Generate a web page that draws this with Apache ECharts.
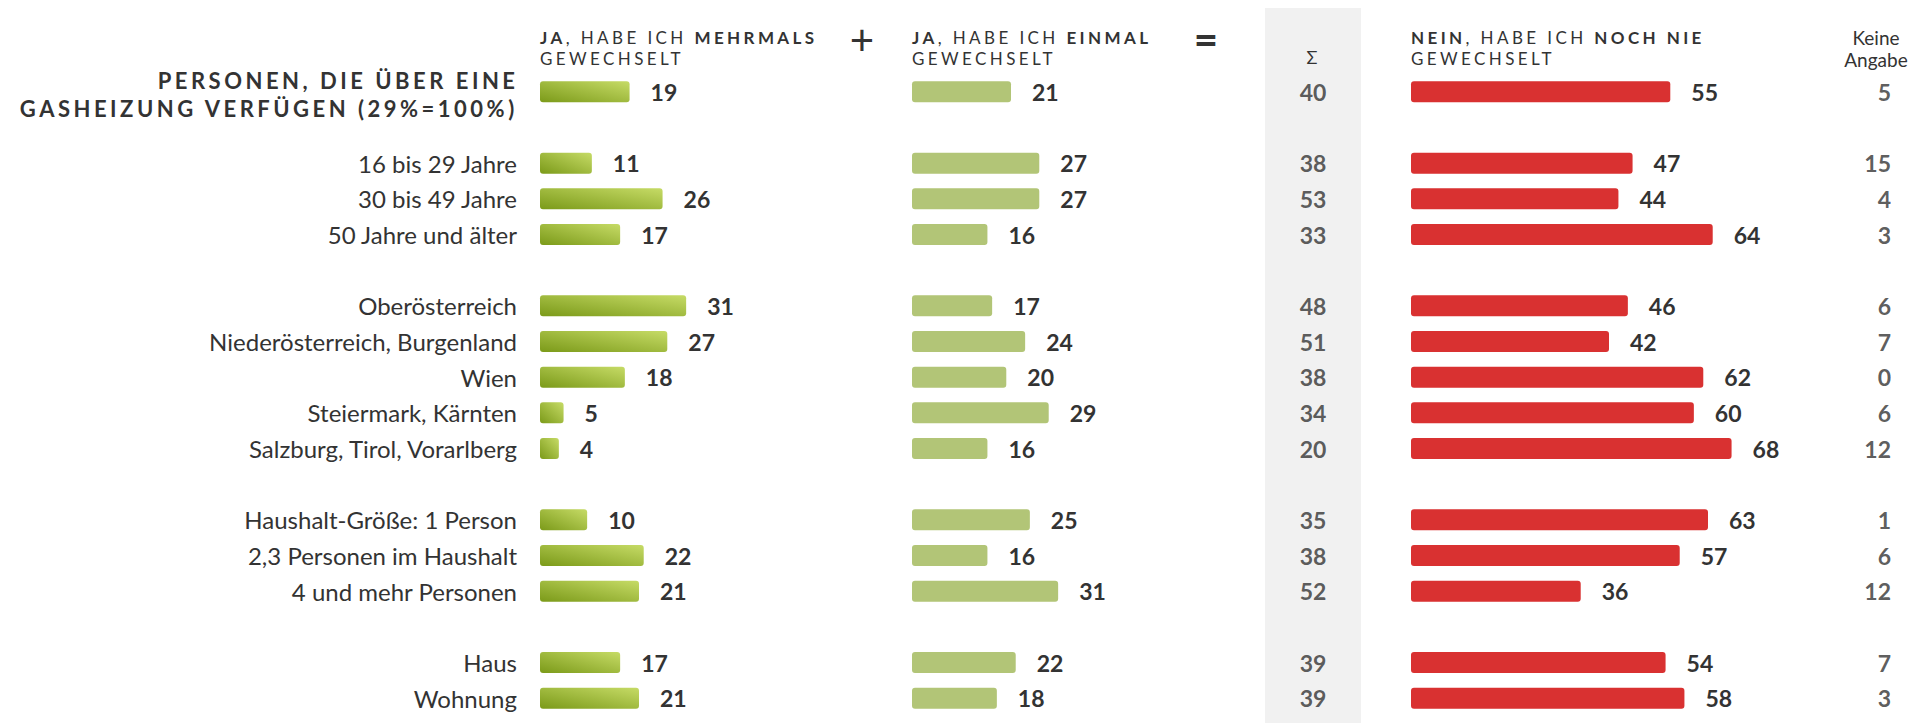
<!DOCTYPE html>
<html>
<head>
<meta charset="utf-8">
<script src="https://cdn.jsdelivr.net/npm/echarts@6/dist/echarts.min.js"></script>
<style>
  html, body { margin: 0; padding: 0; background: #fff; }
  #chart { width: 1923px; height: 723px; }
</style>
</head>
<body>
<div id="chart"></div>
<script>
// rows (empty string = spacer row between groups)
const categories = [
  'PERSONEN, DIE ÜBER EINE\nGASHEIZUNG VERFÜGEN (29%=100%)', '',
  '16 bis 29 Jahre', '30 bis 49 Jahre', '50 Jahre und älter', '',
  'Oberösterreich', 'Niederösterreich, Burgenland', 'Wien', 'Steiermark, Kärnten', 'Salzburg, Tirol, Vorarlberg', '',
  'Haushalt-Größe: 1 Person', '2,3 Personen im Haushalt', '4 und mehr Personen', '',
  'Haus', 'Wohnung'
]
const mehrmals    = [19, null, 11, 26, 17, null, 31, 27, 18, 5, 4, null, 10, 22, 21, null, 17, 21]
const einmal      = [21, null, 27, 27, 16, null, 17, 24, 20, 29, 16, null, 25, 16, 31, null, 22, 18]
const summe       = [40, null, 38, 53, 33, null, 48, 51, 38, 34, 20, null, 35, 38, 52, null, 39, 39]
const nochNie     = [55, null, 47, 44, 64, null, 46, 42, 62, 60, 68, null, 63, 57, 36, null, 54, 58]
const keineAngabe = [5, null, 15, 4, 3, null, 6, 7, 0, 6, 12, null, 1, 6, 12, null, 7, 3]

// column headers: [text, weight] pieces per line
const headers = [
  { x: 540,  lines: [[['JA', 'bold'], [', HABE ICH ', 'normal'], ['MEHRMALS', 'bold']], [['GEWECHSELT', 'normal']]] },
  { x: 912,  lines: [[['JA', 'bold'], [', HABE ICH ', 'normal'], ['EINMAL', 'bold']], [['GEWECHSELT', 'normal']]] },
  { x: 1411, lines: [[['NEIN', 'bold'], [', HABE ICH ', 'normal'], ['NOCH NIE', 'bold']], [['GEWECHSELT', 'normal']]] }
]

const FONT = 'Lato'
const TXT = '#333333'
const rowKeys = categories.map((c, i) => 'r' + i)

// letter spaced texts (drawn via svg, spacing set after render)
const SPACED = {}
const measureCtx = document.createElement('canvas').getContext('2d')
function textWidth(str, weight, size, spacing) {
  measureCtx.font = weight + ' ' + size + 'px ' + FONT
  measureCtx.letterSpacing = spacing + 'px'
  return measureCtx.measureText(str).width
}
function spacedLine(tokens, x, y, size, spacing, align) {
  let total = tokens.reduce((s, t) => s + textWidth(t[0], t[1], size, spacing), 0)
  let cx = align === 'right' ? x + spacing - total : x
  let els = []
  tokens.forEach(([t, w]) => {
    let shown = t.replace(/\s+$/, '')
    SPACED[shown] = spacing
    els.push({
      type: 'text', x: cx, y: y, silent: true,
      style: { text: shown, fontFamily: FONT, fontSize: size, fontWeight: w, fill: TXT, align: 'left', verticalAlign: 'middle' }
    })
    cx += textWidth(t, w, size, spacing)
  })
  return els
}

// 0: mehrmals, 1: einmal, 2: noch nie, 3: summe, 4: keine angabe
const grids = [
  { left: 540, width: 330 },
  { left: 912, width: 330 },
  { left: 1411, width: 330 },
  { left: 1265, width: 96 },
  { left: 1791, width: 100 }
].map(g => Object.assign({ top: 74, height: 642 }, g))

let valueLabel = {
  show: true, position: 'right', distance: 21,
  fontFamily: FONT, fontSize: 23, fontWeight: 'bold', color: TXT
}

function textColumn(arr, gridIdx, x, align) {
  return {
    type: 'scatter', xAxisIndex: gridIdx, yAxisIndex: gridIdx,
    symbolSize: 1, itemStyle: { color: 'rgba(0,0,0,0)' },
    silent: true,
    data: arr.map((v, i) => [x, rowKeys[i], v]).filter(d => d[2] != null),
    label: {
      show: true, position: 'inside', align: align,
      formatter: p => p.value[2],
      fontFamily: FONT, fontSize: 23, fontWeight: 'bold', color: TXT
    }
  }
}

let graphics = [
  { type: 'rect', z: 0, shape: { x: 1265, y: 8, width: 96, height: 715 }, style: { fill: '#f1f1f1' } },
  {
    type: 'text', x: 862, y: 39,
    style: { text: '+', fontFamily: FONT, fontSize: 42, fill: TXT, align: 'center', verticalAlign: 'middle' }
  },
  {
    type: 'text', x: 1206, y: 39,
    style: { text: '=', fontFamily: FONT, fontSize: 42, fontWeight: 'bold', fill: TXT, align: 'center', verticalAlign: 'middle' }
  },
  {
    type: 'text', x: 1312, y: 57,
    style: { text: 'Σ', fontFamily: FONT, fontSize: 18, fill: TXT, align: 'center', verticalAlign: 'middle' }
  },
  {
    type: 'text', x: 1876, y: 48,
    style: { text: 'Keine\nAngabe', fontFamily: FONT, fontSize: 19, lineHeight: 22, fill: TXT, align: 'center', verticalAlign: 'middle' }
  }
]
headers.forEach(h => {
  graphics = graphics.concat(spacedLine(h.lines[0], h.x, 37, 17, 3.4, 'left'))
  graphics = graphics.concat(spacedLine(h.lines[1], h.x, 58, 17, 3.4, 'left'))
})
categories[0].split('\n').forEach((line, i) => {
  graphics = graphics.concat(spacedLine([[line, 'bold']], 515, 80 + i * 28, 22, 3.5, 'right'))
})

let option = {
  animation: false,
  grid: grids,
  xAxis: grids.map((g, i) => ({
    gridIndex: i, type: 'value', min: 0, max: i < 3 ? 70 : 1, show: false
  })),
  yAxis: grids.map((g, i) => ({
    gridIndex: i, type: 'category', data: rowKeys, inverse: true,
    axisLine: { show: false }, axisTick: { show: false }, splitLine: { show: false },
    axisLabel: i === 0 ? {
      show: true, interval: 0, margin: 23,
      fontFamily: FONT, fontSize: 24, color: TXT,
      // first row is the title, drawn letter spaced below
      formatter: (v, idx) => idx === 0 ? '' : categories[idx]
    } : { show: false }
  })),
  series: [
    {
      type: 'bar', xAxisIndex: 0, yAxisIndex: 0, data: mehrmals, barWidth: 21,
      itemStyle: {
        borderRadius: 3,
        color: new echarts.graphic.LinearGradient(0, 1, 1, 0, [
          { offset: 0, color: '#7b9a19' },
          { offset: 1, color: '#c6db66' }
        ])
      },
      label: valueLabel
    },
    {
      type: 'bar', xAxisIndex: 1, yAxisIndex: 1, data: einmal, barWidth: 21,
      itemStyle: { borderRadius: 3, color: '#b2c577' },
      label: valueLabel
    },
    {
      type: 'bar', xAxisIndex: 2, yAxisIndex: 2, data: nochNie, barWidth: 21,
      itemStyle: { borderRadius: 3, color: '#d93131' },
      label: valueLabel
    },
    textColumn(summe, 3, 0.5, 'center'),
    textColumn(keineAngabe, 4, 1, 'right')
  ],
  graphic: graphics
}

let chart = echarts.init(document.getElementById('chart'), null, { renderer: 'svg' })

function applySpacing() {
  document.querySelectorAll('#chart svg text').forEach(el => {
    let s = SPACED[el.textContent]
    if (s != null) el.style.letterSpacing = s + 'px'
  })
}
chart.on('finished', applySpacing)
chart.setOption(option)
applySpacing()
setTimeout(applySpacing, 50)
window.onresize = function () { chart.resize(); applySpacing() }
</script>
</body>
</html>
